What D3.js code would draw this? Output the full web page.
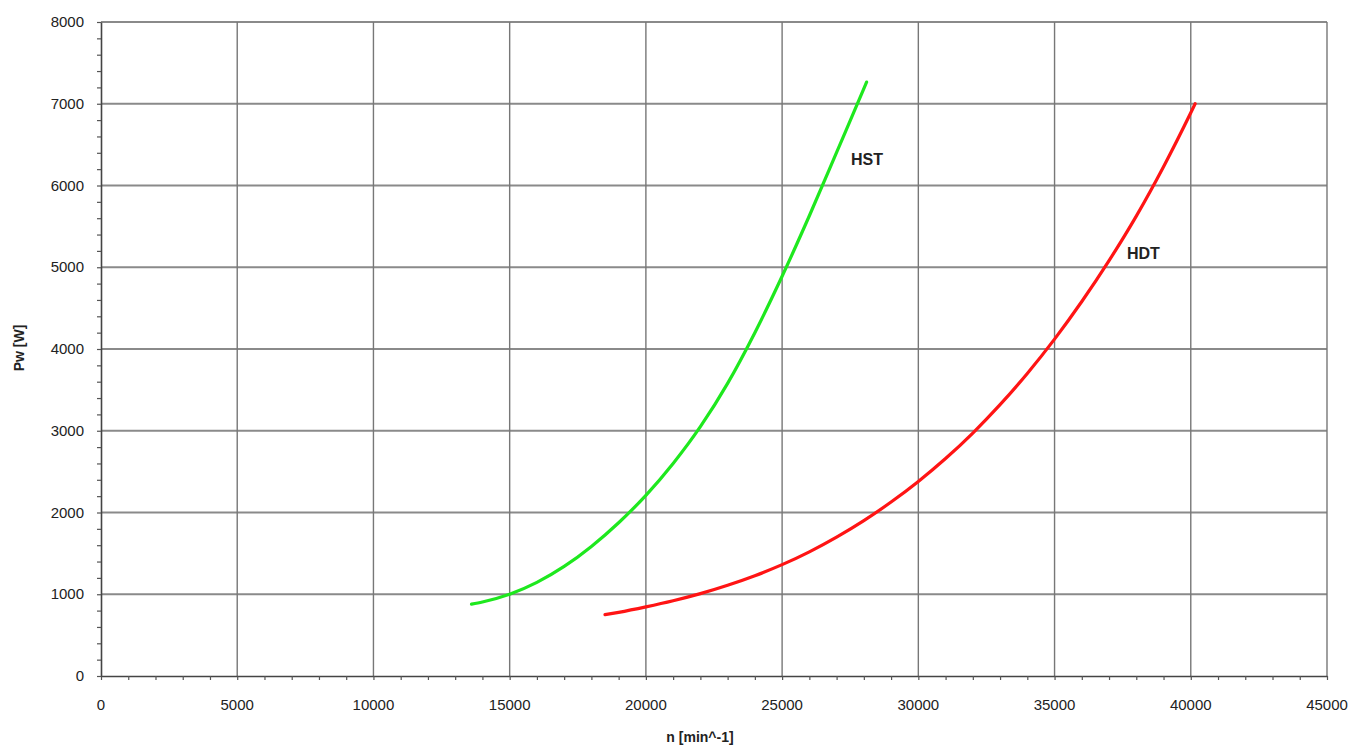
<!DOCTYPE html>
<html lang="en"><head>
<meta charset="utf-8">
<title>Pw over n</title>
<script type="text/javascript" src="https://cdn.jsdelivr.net/npm/d3@7"></script>
<style type="text/css">
  body { margin: 0; background: #fff; }
  text { font-family: "Liberation Sans", Arial, sans-serif; fill: #222; }
</style>
</head>
<body>
<svg width="1358" height="746"></svg>
<script type="text/javascript">

// values
var hstN = [13600, 14000, 15000, 16000, 17000, 18000, 19000, 20000, 21000, 22000, 23000, 24000, 25000, 26000, 27000, 28000, 28100];
var hstP = [879, 905, 1000, 1145, 1340, 1585, 1875, 2210, 2600, 3050, 3580, 4200, 4890, 5630, 6405, 7185, 7265];

var hdtN = [18500, 19000, 20000, 21000, 22000, 23000, 24000, 25000, 26000, 27000, 28000, 29000, 30000, 31000, 32000, 33000, 34000, 35000, 36000, 37000, 38000, 39000, 40000, 40160];
var hdtP = [750, 779, 846, 921, 1008, 1110, 1227, 1362, 1519, 1699, 1901, 2128, 2380, 2660, 2972, 3319, 3701, 4121, 4581, 5081, 5626, 6230, 6890, 7000];

var xTicks = [0, 5000, 10000, 15000, 20000, 25000, 30000, 35000, 40000, 45000];
var yTicks = [0, 1000, 2000, 3000, 4000, 5000, 6000, 7000, 8000];

var svg = d3.select("svg"),
    plotLeft = 101, plotRight = 1327, plotTop = 22, plotBottom = 676;

var x = d3.scaleLinear().domain([0, 45000]).range([plotLeft, plotRight]);
var y = d3.scaleLinear().domain([0, 8000]).range([plotBottom, plotTop]);

// grid
svg.append("g").selectAll("line")
   .data(yTicks.slice(1))
   .enter().append("line")
   .attr("x1", plotLeft).attr("x2", plotRight)
   .attr("y1", function(d){ return y(d) }).attr("y2", function(d){ return y(d) })
   .attr("stroke", "#8a8a8a").attr("stroke-width", 1.8);

svg.append("g").selectAll("line")
   .data(xTicks.slice(1))
   .enter().append("line")
   .attr("y1", plotTop).attr("y2", plotBottom)
   .attr("x1", function(d){ return x(d) }).attr("x2", function(d){ return x(d) })
   .attr("stroke", "#777").attr("stroke-width", 1.4);

// axes with minor ticks
var xAxis = svg.append("g")
   .attr("transform", "translate(0," + plotBottom + ")")
   .call(d3.axisBottom(x).tickValues(d3.range(0, 45001, 1000)).tickSize(4).tickSizeOuter(0).tickFormat(""));
var yAxis = svg.append("g")
   .attr("transform", "translate(" + plotLeft + ",0)")
   .call(d3.axisLeft(y).tickValues(d3.range(0, 8001, 200)).tickSize(4).tickSizeOuter(0).tickFormat(""));

[xAxis, yAxis].forEach(function(a){
  a.select(".domain").attr("stroke", "#444").attr("stroke-width", 1.6);
  a.selectAll(".tick line").attr("stroke", "#555").attr("stroke-width", 1.2);
});

svg.append("g").selectAll("text")
   .data(xTicks)
   .enter().append("text")
   .attr("x", function(d){ return x(d) })
   .attr("y", 710)
   .attr("text-anchor", "middle")
   .attr("font-size", 15)
   .text(function(d){ return d });

svg.append("g").selectAll("text")
   .data(yTicks)
   .enter().append("text")
   .attr("x", 84)
   .attr("y", function(d){ return y(d) + 5 })
   .attr("text-anchor", "end")
   .attr("font-size", 15)
   .text(function(d){ return d });

// axis titles
svg.append("text")
   .attr("x", 700).attr("y", 742)
   .attr("text-anchor", "middle")
   .attr("font-size", 14).attr("font-weight", "bold")
   .text("n [min^-1]");

svg.append("text")
   .attr("transform", "translate(24,348) rotate(-90)")
   .attr("text-anchor", "middle")
   .attr("font-size", 14).attr("font-weight", "bold")
   .text("Pw [W]");

// curves
var line = d3.line()
   .x(function(d){ return x(d[0]) })
   .y(function(d){ return y(d[1]) })
   .curve(d3.curveMonotoneX);

svg.append("path")
   .datum(d3.zip(hstN, hstP))
   .attr("fill", "none")
   .attr("stroke", "#1ee81e")
   .attr("stroke-width", 3.2)
   .attr("stroke-linecap", "round")
   .attr("d", line);

svg.append("path")
   .datum(d3.zip(hdtN, hdtP))
   .attr("fill", "none")
   .attr("stroke", "#ff1414")
   .attr("stroke-width", 3.2)
   .attr("stroke-linecap", "round")
   .attr("d", line);

// labels
svg.append("text")
   .attr("x", 851).attr("y", 165)
   .attr("font-size", 16).attr("font-weight", "bold")
   .text("HST");

svg.append("text")
   .attr("x", 1127).attr("y", 259)
   .attr("font-size", 16).attr("font-weight", "bold")
   .text("HDT");

</script>
</body>
</html>
